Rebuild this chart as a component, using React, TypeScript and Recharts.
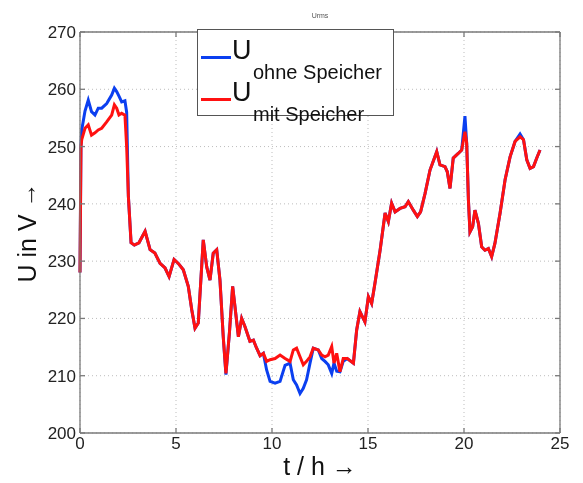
import { LineChart, Line, XAxis, YAxis, CartesianGrid } from "recharts";

const hours = [
  0, 0.05, 0.09, 0.26, 0.43, 0.6, 0.78, 0.95, 1.13, 1.39,
  1.65, 1.79, 1.91, 2.03, 2.17, 2.34, 2.43, 2.52, 2.66, 2.83,
  3.07, 3.39, 3.65, 3.9, 4.17, 4.43, 4.64, 4.9, 5.12, 5.38,
  5.64, 5.82, 5.99, 6.16, 6.42, 6.6, 6.77, 6.94, 7.12, 7.29,
  7.46, 7.6, 7.78, 7.95, 8.07, 8.25, 8.42, 8.59, 8.85, 9.03,
  9.2, 9.38, 9.55, 9.72, 9.9, 10.16, 10.42, 10.68, 10.94, 11.11,
  11.28, 11.46, 11.63, 11.8, 11.98, 12.15, 12.41, 12.59, 12.76, 12.93,
  13.11, 13.23, 13.37, 13.54, 13.71, 13.92, 14.24, 14.41, 14.58, 14.84,
  15.02, 15.19, 15.36, 15.63, 15.89, 16.06, 16.23, 16.41, 16.67, 16.93,
  17.1, 17.36, 17.57, 17.74, 17.97, 18.23, 18.58, 18.75, 19.01, 19.13,
  19.27, 19.44, 19.7, 19.88, 20.05, 20.14, 20.23, 20.31, 20.45, 20.57,
  20.75, 20.92, 21.09, 21.27, 21.44, 21.61, 21.88, 22.14, 22.4, 22.66,
  22.92, 23.1, 23.27, 23.44, 23.62, 23.79, 23.96,
];

// U mit Speicher (red)
const uMit = [
  228, 250, 251.2, 253.2, 253.8, 252, 252.4, 252.9, 253.2, 254.3,
  255.5, 257.3, 256.7, 255.5, 255.8, 255.5, 250, 241.3, 233.2, 232.8,
  233.2, 235.2, 232, 231.4, 229.6, 228.8, 227.3, 230.3, 229.6, 228.5,
  225.6, 221.5, 218.3, 219.2, 233.7, 229, 226.7, 231.4, 232, 226.7,
  216.8, 210.4, 217.4, 225.6, 222.1, 216.8, 220, 218.6, 216, 216.2,
  214.8, 213.5, 213.9, 212.5, 212.8, 213, 213.6, 213, 212.5, 214.5,
  214.8, 213.3, 211.9, 212.5, 213.3, 214.8, 214.5, 213.6, 213.3, 213.6,
  215.1, 212.2, 213.9, 210.7, 213, 213, 212.2, 218, 221.2, 219.4,
  223.8, 222.6, 226.1, 231.9, 238.4, 236.9, 240.1, 238.6, 239.2, 239.5,
  240.4, 238.9, 237.8, 238.6, 241.8, 245.9, 249.1, 246.8, 246.5, 245.6,
  242.7, 248, 248.8, 249.4, 252.6, 250.6, 240.7, 235.1, 236, 238.9,
  236.6, 232.5, 231.9, 232.2, 230.8, 233.1, 238.4, 244.2, 248.2, 250.9,
  251.7, 251.2, 247.7, 246.2, 246.5, 248, 249.4,
];

// U ohne Speicher (blue)
const uOhne = [
  228, 250, 252.9, 256.2, 258.1, 256.1, 255.5, 256.7, 256.7, 257.5,
  259, 260.2, 259.6, 258.8, 257.8, 258, 256, 241.3, 233.2, 232.8,
  233.2, 235.2, 232, 231.4, 229.6, 228.8, 227.3, 230.3, 229.6, 228.5,
  225.6, 221.5, 218.3, 219.2, 233.7, 229, 226.7, 231.4, 232, 226.7,
  216.8, 210.2, 217.4, 225.6, 222.1, 216.8, 220, 218.6, 216, 216.2,
  214.8, 213.5, 213.9, 211, 209, 208.7, 209, 211.8, 212.2, 209.3,
  208.4, 206.9, 207.8, 209.3, 212.2, 214.8, 214.5, 213, 212.5, 211.9,
  210.4, 212.2, 210.8, 210.7, 212.5, 213, 212.2, 218, 221.2, 219.4,
  223.8, 222.6, 226.1, 231.9, 238.4, 236.9, 240.1, 238.6, 239.2, 239.5,
  240.4, 238.9, 237.8, 238.6, 241.8, 245.9, 249.1, 246.8, 246.5, 245.6,
  242.7, 248, 248.8, 249.4, 255.3, 250.6, 240.7, 235.1, 236, 238.9,
  236.6, 232.5, 231.9, 232.2, 230.8, 233.1, 238.4, 244.2, 248.2, 250.9,
  252.2, 251.2, 247.7, 246.2, 246.5, 248, 249.4,
];

const xTicks = [0, 5, 10, 15, 20, 25];
const yTicks = [200, 210, 220, 230, 240, 250, 260, 270];

const data = hours.map((t, i) => ({ t, mit: uMit[i], ohne: uOhne[i] }));

const FONT = '"Liberation Sans", Arial, sans-serif';
const BLUE = "#0b3ff0";
const RED = "#ff1111";
const AXIS = "#7a7a7a";

const LegendBox = () => {
  const row = (color: string, sub: string, top: number) => (
    <div style={{ position: "absolute", left: 0, top, width: "100%", height: 44 }}>
      <div style={{ position: "absolute", left: 3, top: 21, width: 30, height: 3, background: color }} />
      <div style={{ position: "absolute", left: 34, top: 0, fontSize: 27, lineHeight: "30px" }}>U</div>
      <div style={{ position: "absolute", left: 55, top: 25, fontSize: 20, lineHeight: "24px" }}>{sub}</div>
    </div>
  );
  return (
    <div
      style={{
        position: "absolute",
        left: 197,
        top: 29,
        width: 197,
        height: 87,
        border: "1px solid #555",
        boxSizing: "border-box",
        background: "#fff",
        fontFamily: FONT,
        color: "#111",
      }}
    >
      {row(BLUE, "ohne Speicher", 5)}
      {row(RED, "mit Speicher", 47)}
    </div>
  );
};

export default function App() {
  return (
    <div style={{ position: "fixed", left: 0, top: 0, width: 583, height: 483, background: "#fff" }}>
      <div
        style={{
          position: "absolute",
          left: 0,
          top: 12,
          width: 640,
          textAlign: "center",
          fontFamily: FONT,
          fontSize: 7,
          color: "#555",
        }}
      >
        Urms
      </div>
      <LineChart
        width={583}
        height={483}
        data={data}
        margin={{ top: 31, right: 22, bottom: 5, left: 30 }}
        style={{ fontFamily: FONT }}
      >
        <CartesianGrid stroke="#bdbdbd" strokeDasharray="1 3" />
        <XAxis
          dataKey="t"
          type="number"
          domain={[0, 25]}
          ticks={xTicks}
          interval={0}
          height={45}
          stroke={AXIS}
          strokeWidth={1.3}
          tickSize={-5}
          tickMargin={9}
          tick={{ fill: "#222", fontSize: 17 }}
          label={{
            value: "t / h  \u2192",
            position: "insideBottom",
            offset: 3,
            style: { fontSize: 25, fill: "#111", fontFamily: FONT },
          }}
        />
        <XAxis
          xAxisId="top"
          orientation="top"
          dataKey="t"
          type="number"
          domain={[0, 25]}
          allowDataOverflow
          ticks={xTicks}
          interval={0}
          height={1}
          stroke={AXIS}
          strokeWidth={1.3}
          tickSize={-5}
          tick={{ fill: "none", fontSize: 1 }}
        />
        <YAxis
          type="number"
          domain={[200, 270]}
          ticks={yTicks}
          interval={0}
          width={50}
          stroke={AXIS}
          strokeWidth={1.3}
          tickSize={-5}
          tickMargin={9}
          tick={{ fill: "#222", fontSize: 17 }}
          label={{
            value: "U in V \u2192",
            angle: -90,
            position: "insideLeft",
            offset: -3,
            style: { fontSize: 25, fill: "#111", textAnchor: "middle", fontFamily: FONT },
          }}
        />
        <YAxis
          yAxisId="right"
          orientation="right"
          type="number"
          domain={[200, 270]}
          allowDataOverflow
          ticks={yTicks}
          interval={0}
          width={1}
          stroke={AXIS}
          strokeWidth={1.3}
          tickSize={-5}
          tick={{ fill: "none", fontSize: 1 }}
        />
        <Line
          type="linear"
          dataKey="ohne"
          name="U ohne Speicher"
          stroke={BLUE}
          strokeWidth={3}
          dot={false}
          isAnimationActive={false}
        />
        <Line
          type="linear"
          dataKey="mit"
          name="U mit Speicher"
          stroke={RED}
          strokeWidth={3}
          dot={false}
          isAnimationActive={false}
        />
      </LineChart>
      <LegendBox />
    </div>
  );
}
